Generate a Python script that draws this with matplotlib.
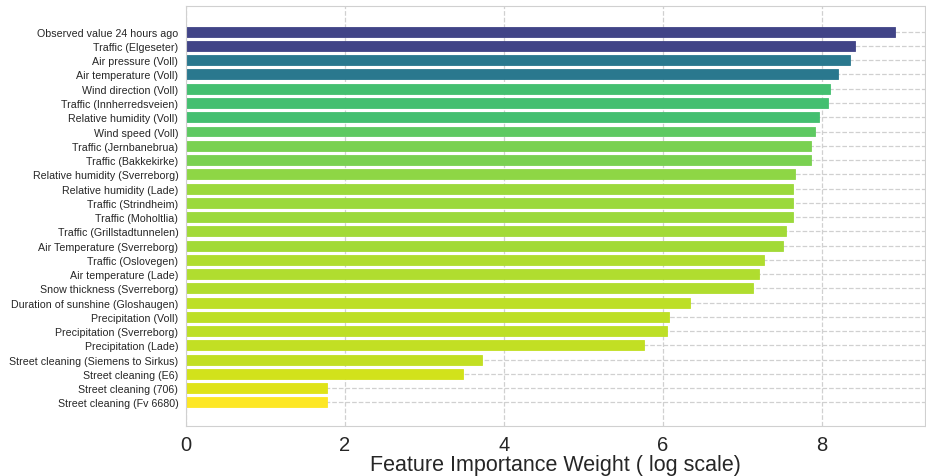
import numpy as np
import matplotlib
matplotlib.use("Agg")
import matplotlib.pyplot as plt
import seaborn as sns

features = [
    "Observed value 24 hours ago", "Traffic (Elgeseter)", "Air pressure (Voll)",
    "Air temperature (Voll)", "Wind direction (Voll)", "Traffic (Innherredsveien)",
    "Relative humidity (Voll)", "Wind speed (Voll)", "Traffic (Jernbanebrua)",
    "Traffic (Bakkekirke)", "Relative humidity (Sverreborg)",
    "Relative humidity (Lade)", "Traffic (Strindheim)", "Traffic (Moholtlia)",
    "Traffic (Grillstadtunnelen)", "Air Temperature (Sverreborg)",
    "Traffic (Oslovegen)", "Air temperature (Lade)", "Snow thickness (Sverreborg)",
    "Duration of sunshine (Gloshaugen)", "Precipitation (Voll)",
    "Precipitation (Sverreborg)", "Precipitation (Lade)",
    "Street cleaning (Siemens to Sirkus)", "Street cleaning (E6)",
    "Street cleaning (706)", "Street cleaning (Fv 6680)",
]
weights = [8.92, 8.42, 8.35, 8.20, 8.11, 8.08, 7.96, 7.92, 7.86, 7.86,
           7.66, 7.64, 7.64, 7.64, 7.55, 7.51, 7.27, 7.21, 7.13, 6.34,
           6.08, 6.05, 5.76, 3.72, 3.48, 1.77, 1.77]
# position of each bar's colour in viridis
shade = [0.2, 0.2, 0.4, 0.4, 0.7, 0.7, 0.7, 0.75, 0.8, 0.8,
         0.83, 0.85, 0.85, 0.85, 0.86, 0.86, 0.88, 0.88, 0.88, 0.9,
         0.9, 0.9, 0.91, 0.91, 0.93, 0.95, 1.0]

sns.set_style("whitegrid", {"grid.linestyle": "--"})
plt.rcParams["font.family"] = ["Liberation Sans", "DejaVu Sans"]

fig = plt.figure(figsize=(9.26, 4.77), dpi=100)
ax = fig.add_axes([186 / 926, 1 - 427 / 477, 739 / 926, 420 / 477])
y = np.arange(len(features))
colors = plt.get_cmap("viridis")(shade)
ax.barh(y, weights, height=0.7, color=colors, edgecolor=colors,
        linewidth=0.6, zorder=2)
ax.set_yticks(y)
ax.set_yticklabels(features, fontsize=7.7)
ax.set_ylim(len(features) - 1 + 1.65, -1.8)
ax.set_xlim(0, 9.3)
ax.set_xticks([0, 2, 4, 6, 8])
ax.tick_params(axis="x", labelsize=14.5, pad=3)
ax.tick_params(axis="y", pad=2)
ax.set_xlabel("Feature Importance Weight ( log scale)", fontsize=15.5, labelpad=0)
ax.grid(True, color="#d0d0d0", linestyle="--", linewidth=0.9, zorder=0)
ax.set_axisbelow(True)
for s in ax.spines.values():
    s.set_color("#d0d0d0")
fig.savefig("out.png", dpi=100)
